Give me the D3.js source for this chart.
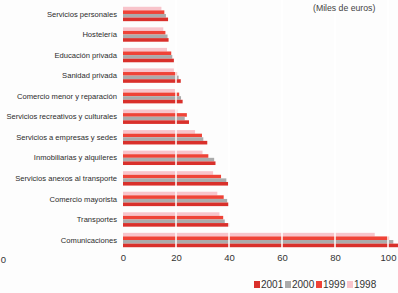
<!DOCTYPE html>
<html>
<head>
<meta charset="utf-8">
<script src="https://cdn.jsdelivr.net/npm/d3@7"></script>
<style>
  body { margin: 0; background: #fff; }
  svg { display: block; font-family: "Liberation Sans", Arial, sans-serif; }
</style>
</head>
<body>
<svg class="chart"></svg>
<script>
// sectors, top to bottom
let sectors = [
  "Servicios personales",
  "Hostelería",
  "Educación privada",
  "Sanidad privada",
  "Comercio menor y reparación",
  "Servicios recreativos y culturales",
  "Servicios a empresas y sedes",
  "Inmobiliarias y alquileres",
  "Servicios anexos al transporte",
  "Comercio mayorista",
  "Transportes",
  "Comunicaciones"
]

// miles de euros per year
let v1998 = [14.5, 15.2, 16.6, 19.2, 19.6, 20.5, 27.2, 30.0, 34.0, 35.6, 36.4, 95.0]
let v1999 = [15.6, 16.0, 18.2, 20.4, 21.2, 24.1, 29.8, 32.2, 37.0, 38.0, 37.8, 100.4]
let v2000 = [16.2, 16.8, 18.6, 21.0, 21.9, 23.3, 30.3, 34.4, 39.0, 39.3, 38.4, 102.0]
let v2001 = [17.0, 17.2, 19.2, 21.8, 22.5, 24.9, 31.8, 34.9, 39.7, 40.0, 40.1, 106.0]

let years = ["1998", "1999", "2000", "2001"]
let legendYears = ["2001", "2000", "1999", "1998"]
let xTicks = [0, 20, 40, 60, 80, 100]
let gridTicks = [20, 40, 60, 80, 100]

let colors = { "1998": "#f8c4cb", "1999": "#ef4337", "2000": "#ababab", "2001": "#d9302b" }

let rows = sectors.map((s, i) => ({
  sector: s,
  values: [
    { year: "1998", value: v1998[i] },
    { year: "1999", value: v1999[i] },
    { year: "2000", value: v2000[i] },
    { year: "2001", value: v2001[i] }
  ]
}))

let W = 398, H = 293

let svg = d3.select('.chart')
    .attr('width', W)
    .attr('height', H)

svg.append('rect').attr('width', W).attr('height', H).attr('fill', '#fdfdfd')

let x = d3.scaleLinear().domain([0, 100]).range([123, 388])
let y = d3.scaleBand().domain(sectors).range([3.7, 250.3]).paddingInner(0.3).paddingOuter(0.15)
let y1 = d3.scaleBand().domain(years).range([0, y.bandwidth()])

// bars
let group = svg.selectAll('.grp')
    .data(rows)
    .enter()
    .append('g')
    .attr('class', 'grp')
    .attr('transform', d => 'translate(0,' + y(d.sector) + ')')

group.selectAll('rect')
    .data(d => d.values)
    .enter()
    .append('rect')
    .attr('x', x(0))
    .attr('y', d => y1(d.year))
    .attr('width', d => x(d.value) - x(0))
    .attr('height', y1.bandwidth())
    .attr('fill', d => colors[d.year])

// white grid lines on top of bars
svg.selectAll('.grid')
    .data(gridTicks)
    .enter()
    .append('line')
    .attr('x1', d => x(d))
    .attr('x2', d => x(d))
    .attr('y1', 0)
    .attr('y2', 252)
    .attr('stroke', '#fff')
    .attr('stroke-width', 1.5)

// category labels
svg.selectAll('.lbl')
    .data(sectors)
    .enter()
    .append('text')
    .attr('x', 117)
    .attr('y', d => y(d) + y.bandwidth() / 2)
    .attr('dy', '0.35em')
    .attr('text-anchor', 'end')
    .attr('font-size', 7.6)
    .attr('fill', '#2b2b2b')
    .text(d => d)

// x axis ticks (no line)
let xAxis = svg.append('g')
    .attr('transform', 'translate(0,254)')
    .call(d3.axisBottom(x).tickValues(xTicks).tickSize(0).tickPadding(0))
xAxis.select('.domain').remove()
xAxis.selectAll('text')
    .attr('dy', '0.71em')
    .attr('font-size', 9.5)
    .attr('font-family', '"Liberation Sans", Arial, sans-serif')
    .attr('fill', '#333')

// stray label at the left edge
svg.append('text')
    .attr('x', 3.5)
    .attr('y', 263)
    .attr('text-anchor', 'middle')
    .attr('font-size', 9.5)
    .attr('fill', '#333')
    .text('0')

// unit note
svg.append('text')
    .attr('x', 313)
    .attr('y', 11)
    .attr('font-size', 8.7)
    .attr('fill', '#444')
    .text('(Miles de euros)')

// legend
let legend = svg.selectAll('.leg')
    .data(legendYears)
    .enter()
    .append('g')
    .attr('transform', (d, i) => 'translate(' + (254 + i * 31) + ',281)')

legend.append('rect')
    .attr('width', 6)
    .attr('height', 7)
    .attr('fill', d => colors[d])

legend.append('text')
    .attr('x', 7)
    .attr('y', 7)
    .attr('font-size', 10)
    .attr('fill', '#333')
    .text(d => d)
</script>
</body>
</html>
